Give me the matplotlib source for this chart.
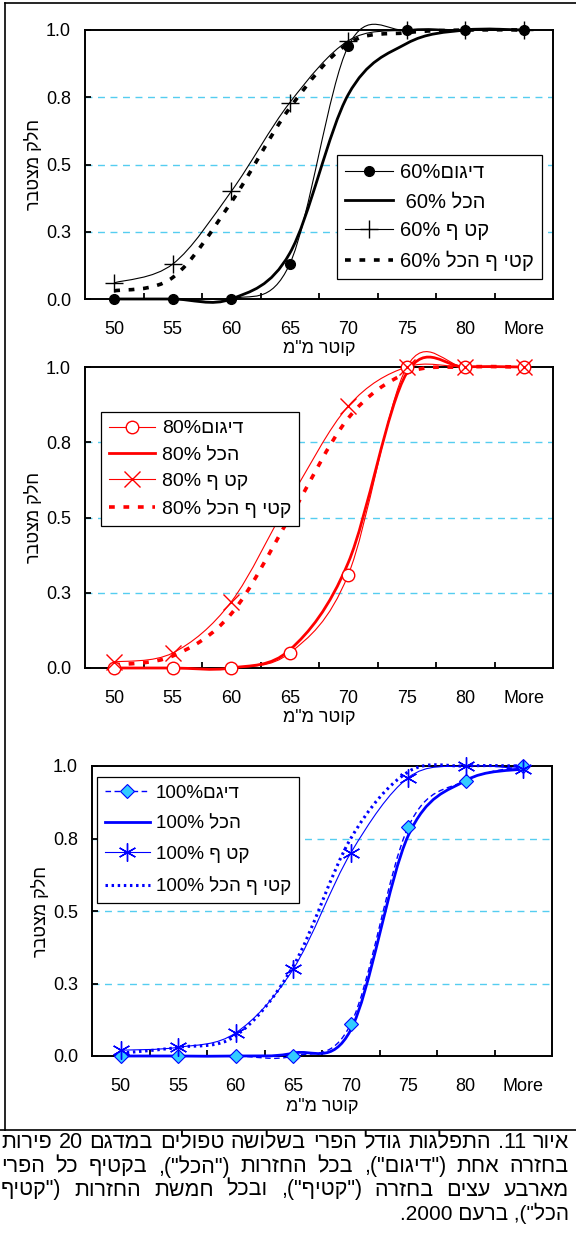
import re
import matplotlib
matplotlib.use("Agg")
import matplotlib.pyplot as plt
from matplotlib.path import Path
from matplotlib.patches import PathPatch
from matplotlib.lines import Line2D

plt.rcParams.update({
    "font.family": ["Liberation Sans", "DejaVu Sans"],
    "font.size": 13,
    "figure.facecolor": "white",
    "axes.facecolor": "white",
    "savefig.facecolor": "white",
    "text.color": "black",
})

W, H, DPI = 576, 1243, 100

# ---- data ------------------------------------------------------------------
CATS = ["50", "55", "60", "65", "70", "75", "80", "More"]
Y_TICKS = [0.0, 0.25, 0.5, 0.75, 1.0]
Y_TICK_LABELS = ["0.0", "0.3", "0.5", "0.8", "1.0"]

p60_sample = [0.0, 0.0, 0.0, 0.13, 0.94, 1.0, 1.0, 1.0]
p60_all = [0.0, 0.0, 0.0, 0.17, 0.76, 0.95, 1.0, 1.0]
p60_harvest = [0.06, 0.13, 0.40, 0.73, 0.96, 1.0, 1.0, 1.0]
p60_harvest_all = [0.03, 0.08, 0.36, 0.71, 0.95, 0.99, 1.0, 1.0]

p80_sample = [0.0, 0.0, 0.0, 0.05, 0.31, 1.0, 1.0, 1.0]
p80_all = [0.0, 0.0, 0.0, 0.06, 0.35, 0.98, 1.0, 1.0]
p80_harvest = [0.02, 0.05, 0.22, 0.56, 0.87, 1.0, 1.0, 1.0]
p80_harvest_all = [0.01, 0.04, 0.18, 0.50, 0.83, 0.98, 1.0, 1.0]

p100_sample = [0.0, 0.0, 0.0, 0.0, 0.11, 0.79, 0.95, 1.0]
p100_all = [0.0, 0.0, 0.0, 0.01, 0.09, 0.76, 0.95, 0.99]
p100_harvest = [0.02, 0.03, 0.08, 0.30, 0.70, 0.96, 1.0, 0.99]
p100_harvest_all = [0.01, 0.03, 0.07, 0.31, 0.75, 0.98, 1.0, 1.0]

labels60 = ["60%דיגום", " 60% הכל", "60% קט ף", "60% קטי ף הכל"]
labels80 = ["80%דיגום", "80% הכל", "80% קט ף", "80% קטי ף הכל"]
labels100 = ["100%דיגם", "100% הכל", "100% קט ף", "100% קטי ף הכל"]

XLABEL = "קוטר מ\"מ"
YLABEL = "חלק מצטבר"

CAPTION = [
    "איור 11. התפלגות גודל הפרי בשלושה טפולים במדגם 20 פירות",
    "בחזרה אחת (\"דיגום\"), בכל החזרות (\"הכל\"), בקטיף כל הפרי",
    "מארבע עצים בחזרה (\"קטיף\"), ובכל חמשת החזרות (\"קטיף",
    "הכל\"), ברעם 2000.",
]

GRID_C = "#55cdf0"


# matplotlib lays glyphs out left to right, so hebrew is put in visual order here
def rtl(s):
    mirror = {"(": ")", ")": "("}
    r = "".join(mirror.get(c, c) for c in reversed(s))
    return re.sub(r"[0-9]+", lambda m: m.group(0)[::-1], r)


def heb_runs(s):
    return re.sub(r"[\u0590-\u05ff](?:[\u0590-\u05ff ]*[\u0590-\u05ff])?",
                  lambda m: m.group(0)[::-1], s)


def smooth_path(xs, ys):
    # excel style smoothed line: bezier segments through every point
    n = len(xs)
    verts = [(xs[0], ys[0])]
    codes = [Path.MOVETO]
    for i in range(n - 1):
        a = max(i - 1, 0)
        d = min(i + 2, n - 1)
        c1 = (xs[i] + (xs[i + 1] - xs[a]) / 6, ys[i] + (ys[i + 1] - ys[a]) / 6)
        c2 = (xs[i + 1] - (xs[d] - xs[i]) / 6, ys[i + 1] - (ys[d] - ys[i]) / 6)
        verts += [c1, c2, (xs[i + 1], ys[i + 1])]
        codes += [Path.CURVE4] * 3
    return Path(verts, codes)


def series(ax, vals, color, lw, ls, marker=None, ms=0, mfc=None, mec=None, mew=1.0):
    xs = list(range(len(vals)))
    patch = PathPatch(smooth_path(xs, vals), fill=False, edgecolor=color,
                      lw=lw, linestyle=ls, capstyle="butt", clip_on=False, zorder=3)
    ax.add_patch(patch)
    if marker:
        ax.plot(xs, vals, linestyle="none", marker=marker, ms=ms,
                mfc=mfc, mec=mec, mew=mew, clip_on=False, zorder=4)
    return Line2D([], [], color=color, lw=lw, linestyle=ls, marker=marker,
                  ms=ms, mfc=mfc, mec=mec, mew=mew, dash_capstyle="butt")


def make_axes(left, right, top, bottom):
    return fig.add_axes([left / W, 1 - bottom / H, (right - left) / W, (bottom - top) / H])


def setup(ax, ylab_x_px):
    pos = ax.get_position()
    ah = pos.height * H
    aw = pos.width * W
    ax.set_xlim(-0.5, 7.5)
    ax.set_ylim(0, 1)
    ax.set_xticks(range(len(CATS)))
    ax.set_xticklabels(CATS)
    ax.set_xticks([i + 0.5 for i in range(len(CATS) - 1)], minor=True)
    ax.tick_params(axis="x", which="major", length=0, pad=16, labelsize=13)
    ax.tick_params(axis="x", which="minor", direction="in", length=4, width=1.3)
    ax.set_yticks(Y_TICKS)
    ax.set_yticklabels(Y_TICK_LABELS)
    ax.tick_params(axis="y", direction="in", length=4, width=1.3, pad=10, labelsize=13)
    for s in ax.spines.values():
        s.set_linewidth(1.4)
    for yv in Y_TICKS[1:-1]:
        ax.axhline(yv, color=GRID_C, lw=1.0, linestyle=(0, (5, 4)), zorder=1)
    ax.set_xlabel(rtl(XLABEL), fontsize=13, va="center")
    ax.xaxis.set_label_coords(0.5, -50 / ah)
    ax.set_ylabel(rtl(YLABEL), fontsize=13, va="center", ha="center")
    ax.yaxis.set_label_coords((ylab_x_px - pos.x0 * W) / aw, 0.5)


def legend(ax, handles, labels, x_px, y_px, spacing, fs):
    pos = ax.get_position()
    ah = pos.height * H
    top_px = (1 - pos.y0) * H - ah
    bx = (x_px - pos.x0 * W) / (pos.width * W)
    by = 1 - (y_px - top_px) / ah
    leg = ax.legend(handles, [heb_runs(t) for t in labels], loc="upper left",
                    bbox_to_anchor=(bx, by), borderaxespad=0, fontsize=fs,
                    frameon=True, fancybox=False, edgecolor="black", framealpha=1,
                    handlelength=2.4, handletextpad=0.35, labelspacing=spacing,
                    borderpad=0.4)
    leg.get_frame().set_linewidth(0.9)


fig = plt.figure(figsize=(W / DPI, H / DPI), dpi=DPI)

# ---- chart 1: 60% ----------------------------------------------------------
ax1 = make_axes(85, 553, 30, 299)
h = [
    series(ax1, p60_sample, "black", 0.8, "-", "o", 7, "black", "black"),
    series(ax1, p60_all, "black", 2.0, "-"),
    series(ax1, p60_harvest, "black", 0.8, "-", "+", 13, None, "black", 1.0),
    series(ax1, p60_harvest_all, "black", 2.6, (0, (1.6, 2.4))),
]
setup(ax1, 34)
legend(ax1, h, labels60, 337, 155, 0.5, 14.5)

# ---- chart 2: 80% ----------------------------------------------------------
ax2 = make_axes(85, 553, 367, 668)
h = [
    series(ax2, p80_sample, "red", 0.8, "-", "o", 9, "white", "red", 1.0),
    series(ax2, p80_all, "red", 2.0, "-"),
    series(ax2, p80_harvest, "red", 0.8, "-", "x", 11, None, "red", 1.0),
    series(ax2, p80_harvest_all, "red", 2.6, (0, (1.6, 2.4))),
]
setup(ax2, 34)
legend(ax2, h, labels80, 101, 412, 0.45, 14)

# ---- chart 3: 100% ---------------------------------------------------------
ax3 = make_axes(92, 552, 766, 1056)
h = [
    series(ax3, p100_sample, "blue", 1.0, (0, (4, 2.5)), "D", 7, "#33ccff", "blue", 0.8),
    series(ax3, p100_all, "blue", 2.0, "-"),
    series(ax3, p100_harvest, "blue", 0.8, "-", (6, 2, 0), 13, None, "blue", 1.0),
    series(ax3, p100_harvest_all, "blue", 2.2, (0, (0.8, 1.2))),
]
setup(ax3, 41)
legend(ax3, h, labels100, 97, 777, 0.72, 13.5)

# ---- frame lines and caption ----------------------------------------------
def hline(y, x0, x1, lw=1.2):
    fig.add_artist(Line2D([x0 / W, x1 / W], [1 - y / H, 1 - y / H],
                          color="black", lw=lw, transform=fig.transFigure))


def vline(x, y0, y1, lw=1.2):
    fig.add_artist(Line2D([x / W, x / W], [1 - y0 / H, 1 - y1 / H],
                          color="black", lw=lw, transform=fig.transFigure))


hline(3, 5, W)
vline(5, 3, 1130)
hline(1130, 0, W)

# caption: justified right-to-left paragraph, last line flush right
CAP_L, CAP_R = 1, 569
renderer = fig.canvas.get_renderer()
for i, line in enumerate(CAPTION):
    y = 1 - (1143 + i * 23.5) / H
    if i == len(CAPTION) - 1:
        fig.text(CAP_R / W, y, rtl(line), ha="right", va="center", fontsize=15)
        continue
    # shrink the font until the line fits, then spread the words over the width
    fs = 15.5
    while True:
        words = rtl(line).split(" ")
        texts = [fig.text(0, y, w, ha="left", va="center", fontsize=fs) for w in words]
        widths = [t.get_window_extent(renderer).width for t in texts]
        if sum(widths) + 3.5 * (len(words) - 1) <= CAP_R - CAP_L or fs < 12:
            break
        for t in texts:
            t.remove()
        fs -= 0.25
    gap = (CAP_R - CAP_L - sum(widths)) / (len(words) - 1)
    x = CAP_L
    for t, wd in zip(texts, widths):
        t.set_x(x / W)
        x += wd + gap
    texts[-1].set_ha("right")
    texts[-1].set_x(CAP_R / W)

fig.savefig("out.png", dpi=DPI)
